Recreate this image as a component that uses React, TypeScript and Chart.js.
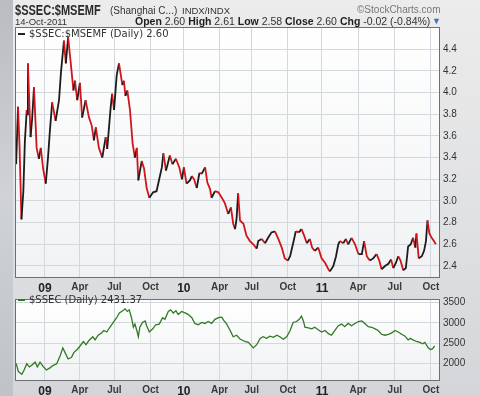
import React, { useEffect, useRef } from "react";
import { Chart, registerables } from "chart.js";

Chart.register(...registerables);

// x positions: days relative to 2009-01-01 along the chart's time axis
const ratioDays = [
  -76, -71, -67, -62, -57, -53, -48, -47, -45, -38, -34, -29, -22, -16, -11, -5, 2, 8, 13, 19,
  28, 37, 42, 50, 55, 61, 68, 75, 79, 85, 92, 98, 107, 116, 123, 129, 134, 142, 151, 160,
  164, 173, 177, 182, 189, 195, 204, 208, 212, 217, 224, 231, 237, 242, 246, 255, 261, 268, 275, 285,
  294, 301, 308, 312, 319, 329, 336, 345, 354, 361, 366, 373, 382, 387, 393, 400, 407, 413, 422, 428,
  435, 439, 448, 457, 466, 474, 483, 490, 496, 501, 505, 509, 514, 523, 531, 540, 549, 558, 562, 571,
  580, 588, 597, 606, 615, 624, 632, 640, 646, 654, 661, 669, 676, 683, 690, 698, 704, 711, 720, 729,
  738, 747, 751, 760, 767, 773, 777, 786, 793, 799, 808, 817, 826, 835, 841, 848, 856, 865, 874, 881,
  887, 896, 905, 912, 918, 925, 931, 937, 944, 951, 957, 964, 970, 976, 979, 985, 993, 999, 1004, 1008,
  1013, 1019, 1025, 1030,
];
const ratioValues = [
  3.34, 3.87, 3.5, 2.83, 3.09, 3.55, 3.84, 3.8, 4.27, 3.59, 3.75, 4.05, 3.49, 3.39, 3.49, 3.3, 3.16, 3.4, 3.65, 3.91,
  3.74, 3.93, 4.18, 4.48, 4.27, 4.51, 4.27, 4.02, 4.11, 3.93, 4.09, 3.77, 3.93, 3.77, 3.7, 3.56, 3.68, 3.49, 3.4, 3.59,
  3.48, 3.86, 3.99, 3.84, 4.16, 4.27, 4.07, 4.11, 3.97, 4.02, 3.84, 3.53, 3.4, 3.49, 3.19, 3.37, 3.3, 3.12, 3.03, 3.08,
  3.09, 3.2, 3.31, 3.44, 3.28, 3.42, 3.34, 3.39, 3.31, 3.2, 3.31, 3.16, 3.19, 3.23, 3.2, 3.12, 3.26, 3.25, 3.31, 3.17,
  3.11, 3.03, 3.09, 3.08, 3.03, 2.98, 2.88, 2.94, 2.79, 2.74, 2.84, 3.07, 2.82, 2.79, 2.68, 2.63, 2.6, 2.56, 2.63, 2.65,
  2.61, 2.66, 2.71, 2.72, 2.65, 2.57, 2.47, 2.45, 2.49, 2.61, 2.72, 2.71, 2.74, 2.68, 2.61, 2.65, 2.57, 2.54, 2.57, 2.47,
  2.43, 2.37, 2.35, 2.4, 2.49, 2.6, 2.63, 2.61, 2.65, 2.6, 2.66, 2.6, 2.51, 2.51, 2.63, 2.49, 2.45, 2.47, 2.51, 2.45,
  2.37, 2.4, 2.42, 2.46, 2.38, 2.43, 2.49, 2.45, 2.36, 2.38, 2.58, 2.6, 2.66, 2.57, 2.7, 2.47, 2.49, 2.54, 2.63, 2.82,
  2.7, 2.66, 2.63, 2.6,
];

const ssecDays = [
  -76, -70, -61, -55, -48, -41, -35, -26, -20, -13, -4, 4, 13, 22, 31, 40, 47, 53, 61, 70,
  76, 85, 92, 101, 108, 117, 126, 132, 140, 149, 155, 163, 171, 180, 189, 196, 205, 211, 217, 222,
  228, 233, 237, 242, 246, 250, 257, 264, 268, 275, 284, 292, 301, 310, 316, 325, 331, 338, 345, 351,
  360, 369, 378, 387, 395, 404, 413, 422, 430, 439, 448, 457, 466, 472, 479, 488, 496, 505, 514, 527,
  536, 549, 558, 567, 575, 584, 593, 602, 611, 619, 628, 637, 646, 654, 663, 670, 676, 681, 685, 694,
  703, 711, 720, 729, 738, 747, 755, 764, 773, 782, 790, 799, 808, 817, 826, 835, 843, 852, 861, 870,
  878, 887, 896, 905, 914, 922, 931, 940, 949, 957, 963, 970, 979, 988, 995, 1001, 1010, 1016, 1021, 1027,
];
const ssecValues = [
  2000, 1796, 1733, 1836, 1990, 1913, 1953, 2030, 1913, 2030, 1913, 1836, 1890, 1953, 1990, 2187, 2382, 2265, 2108, 2148,
  2265, 2342, 2422, 2539, 2460, 2577, 2656, 2577, 2694, 2750, 2811, 2773, 2890, 3008, 3125, 3242, 3296, 3343, 3280, 3320,
  3125, 2890, 2968, 2811, 2656, 2890, 3008, 3046, 2929, 2773, 2851, 2952, 2968, 3125, 3085, 3280, 3320, 3242, 3296, 3202,
  3280, 3242, 3202, 3125, 2984, 2952, 3008, 2984, 3031, 2984, 3085, 3125, 3139, 3046, 2968, 2811, 2656, 2694, 2600, 2539,
  2516, 2382, 2460, 2616, 2656, 2616, 2670, 2640, 2694, 2656, 2593, 2656, 2811, 3008, 3031, 3085, 3163, 3046, 2890, 2874,
  2851, 2890, 2827, 2773, 2811, 2733, 2694, 2811, 2929, 2968, 2905, 2984, 2929, 2984, 3031, 3046, 2984, 2905, 2890, 2851,
  2811, 2717, 2694, 2717, 2750, 2811, 2773, 2717, 2670, 2577, 2616, 2577, 2539, 2516, 2483, 2516, 2382, 2342, 2358, 2431,
];

const xTickDays = [0, 92, 183, 278, 366, 460, 545, 640, 730, 825, 922, 1017];
const xTickLabels = ["09", "Apr", "Jul", "Oct", "10", "Apr", "Jul", "Oct", "11", "Apr", "Jul", "Oct"];
const yearLabels = ["09", "10", "11"];
const ratioTicks = [2.4, 2.6, 2.8, 3.0, 3.2, 3.4, 3.6, 3.8, 4.0, 4.2, 4.4];
const ssecTicks = [2000, 2500, 3000, 3500];

const X_MIN = -79;
const X_MAX = 1041;
const RED = "#d0161b";
const BLACK = "#1c1c1c";
const GREEN = "#2f7a22";
const GRID = "#d3d8de";

const framePlugin = {
  id: "frame",
  beforeDraw(chart: any) {
    const { ctx, chartArea: a } = chart;
    const g = ctx.createLinearGradient(0, a.top, 0, a.bottom);
    g.addColorStop(0, "#ffffff");
    g.addColorStop(1, "#f1f2f4");
    ctx.save();
    ctx.fillStyle = g;
    ctx.fillRect(a.left, a.top, a.right - a.left, a.bottom - a.top);
    ctx.restore();
  },
  afterDraw(chart: any) {
    const { ctx, chartArea: a } = chart;
    ctx.save();
    ctx.strokeStyle = "#6c7075";
    ctx.lineWidth = 1;
    ctx.strokeRect(a.left + 0.5, a.top + 0.5, a.right - a.left - 1, a.bottom - a.top - 1);
    ctx.restore();
  },
};

function xScale() {
  return {
    type: "linear",
    min: X_MIN,
    max: X_MAX,
    afterBuildTicks: (s: any) => {
      s.ticks = xTickDays.map((v) => ({ value: v }));
    },
    afterFit: (s: any) => {
      s.height = 15;
    },
    grid: { color: GRID, drawTicks: false, lineWidth: 1 },
    border: { display: false },
    ticks: {
      autoSkip: false,
      maxRotation: 0,
      padding: 3,
      color: (c: any) => (c.index !== undefined && yearLabels.includes(xTickLabels[c.index]) ? "#222" : "#3a3a3a"),
      font: (c: any) =>
        c.index !== undefined && yearLabels.includes(xTickLabels[c.index])
          ? { family: "Liberation Sans, Arial, sans-serif", size: 12, weight: "bold" }
          : { family: "Liberation Sans, Arial, sans-serif", size: 10, weight: "bold" },
      callback: (v: any) => {
        const i = xTickDays.indexOf(v);
        return i >= 0 ? xTickLabels[i] : "";
      },
    },
  };
}

function yScale(min: number, max: number, ticks: number[], fmt: (v: number) => string) {
  return {
    type: "linear",
    position: "right",
    min,
    max,
    afterBuildTicks: (s: any) => {
      s.ticks = ticks.map((v) => ({ value: v }));
    },
    afterFit: (s: any) => {
      s.width = 40;
    },
    grid: { color: GRID, drawTicks: false, lineWidth: 1 },
    border: { display: false },
    ticks: {
      padding: 3,
      color: "#333",
      font: { family: "Liberation Sans, Arial, sans-serif", size: 10 },
      callback: (v: any) => fmt(Number(v)),
    },
  };
}

export default function App() {
  const topRef = useRef<HTMLCanvasElement>(null);
  const botRef = useRef<HTMLCanvasElement>(null);

  useEffect(() => {
    const top = new Chart(topRef.current as HTMLCanvasElement, {
      type: "line",
      data: {
        datasets: [
          {
            data: ratioDays.map((d, i) => ({ x: d, y: ratioValues[i] })),
            borderWidth: 1.8,
            pointRadius: 0,
            tension: 0,
            borderColor: RED,
            segment: {
              borderColor: (c: any) => (c.p1.parsed.y < c.p0.parsed.y ? RED : BLACK),
            },
          },
        ],
      },
      options: {
        animation: false,
        responsive: false,
        devicePixelRatio: 1,
        layout: { padding: { top: 27, left: 15, right: 0, bottom: 0 } },
        plugins: { legend: { display: false }, tooltip: { enabled: false } },
        scales: {
          x: xScale(),
          y: yScale(2.289, 4.606, ratioTicks, (v) => v.toFixed(1)),
        },
      } as any,
      plugins: [framePlugin],
    });
    const bot = new Chart(botRef.current as HTMLCanvasElement, {
      type: "line",
      data: {
        datasets: [
          {
            data: ssecDays.map((d, i) => ({ x: d, y: ssecValues[i] })),
            borderWidth: 1.3,
            pointRadius: 0,
            tension: 0,
            borderColor: GREEN,
          },
        ],
      },
      options: {
        animation: false,
        responsive: false,
        devicePixelRatio: 1,
        layout: { padding: { top: 3, left: 15, right: 0, bottom: 0 } },
        plugins: { legend: { display: false }, tooltip: { enabled: false } },
        scales: {
          x: xScale(),
          y: yScale(1566, 3586, ssecTicks, (v) => String(v)),
        },
      } as any,
      plugins: [framePlugin],
    });
    return () => {
      top.destroy();
      bot.destroy();
    };
  }, []);

  const sans = "Liberation Sans, Arial, sans-serif";
  const dv = "DejaVu Sans, sans-serif";
  const abs = (l: number, t: number, extra: any = {}) => ({ position: "absolute" as const, left: l, top: t, whiteSpace: "nowrap" as const, ...extra });

  return (
    <div
      style={{
        position: "fixed",
        left: 0,
        top: 0,
        width: 480,
        height: 396,
        overflow: "hidden",
        background: "linear-gradient(to bottom, #ececec 0%, #dfe0e2 60%, #d3d5d8 100%)",
        fontFamily: sans,
      }}
    >
      <div style={abs(0, 0, { width: 13, height: 396, background: "linear-gradient(to bottom, #b9bdc2, #cfd2d6 50%, #bfc3c8)" })} />
      <canvas ref={topRef} width={480} height={293} style={abs(0, 0)} />
      <canvas ref={botRef} width={480} height={106} style={abs(0, 290)} />

      <div
        style={abs(15, 2, {
          fontWeight: "bold",
          fontSize: 14.5,
          color: "#2a2a2a",
          lineHeight: "16px",
          transform: "scaleX(0.76)",
          transformOrigin: "0 0",
        })}
      >
        $SSEC:$MSEMF
      </div>
      <div style={abs(110, 4, { fontSize: 10, color: "#333", lineHeight: "13px" })}>(Shanghai C...)</div>
      <div style={abs(182, 4, { fontSize: 9.5, color: "#333", lineHeight: "13px" })}>INDX/INDX</div>
      <div style={abs(357, 3, { fontSize: 10, color: "#777", lineHeight: "13px" })}>©StockCharts.com</div>
      <div style={abs(15, 16, { fontSize: 9.5, color: "#333", lineHeight: "12px" })}>14-Oct-2011</div>
      <div style={abs(135, 15, { fontSize: 10.5, color: "#333", lineHeight: "13px" })}>
        <b style={{ color: "#1e1e1e" }}>Open</b> 2.60 <b style={{ color: "#1e1e1e" }}>High</b> 2.61{" "}
        <b style={{ color: "#1e1e1e" }}>Low</b> 2.58 <b style={{ color: "#1e1e1e" }}>Close</b> 2.60{" "}
        <b style={{ color: "#1e1e1e" }}>Chg</b> -0.02 (-0.84%)
      </div>
      <div style={abs(432, 15, { fontSize: 9, color: "#3f73b5", lineHeight: "13px" })}>▼</div>

      <div style={abs(18, 33, { width: 7, height: 2, background: "#222" })} />
      <div style={abs(29, 28, { fontFamily: dv, fontSize: 10, color: "#333", lineHeight: "12px" })}>$SSEC:$MSEMF (Daily) 2.60</div>

      <div style={abs(18, 299, { width: 7, height: 2, background: GREEN })} />
      <div style={abs(29, 294, { fontFamily: dv, fontSize: 10, color: "#333", lineHeight: "12px" })}>$SSEC (Daily) 2431.37</div>
    </div>
  );
}
